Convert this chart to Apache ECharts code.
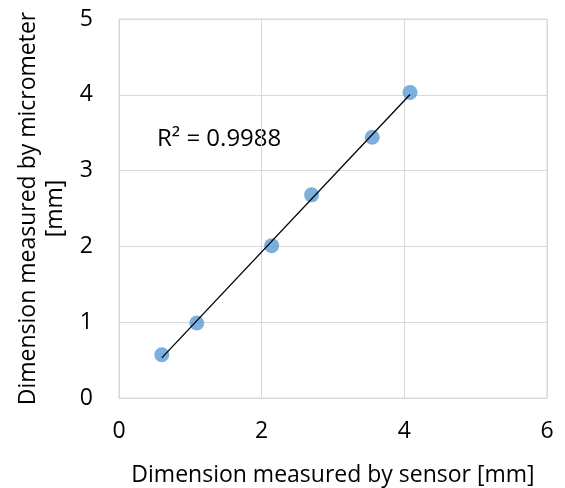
<!DOCTYPE html>
<html>
<head>
<meta charset="utf-8">
<script src="https://cdn.jsdelivr.net/npm/echarts@6/dist/echarts.min.js"></script>
<style>
  html, body { margin: 0; padding: 0; background: #fff; }
  #chart { width: 565px; height: 488px; }
</style>
</head>
<body>
<div id="chart"></div>
<script>
// Calibration: sensor reading vs micrometer reading (mm)
const sensorMm = [0.60, 1.09, 2.14, 2.70, 3.55, 4.08];
const micrometerMm = [0.57, 0.99, 2.01, 2.68, 3.44, 4.03];
const xTicks = [0, 2, 4, 6];
const yTicks = [0, 1, 2, 3, 4, 5];
const rSquaredText = 'R² = 0.9988';

// Least-squares linear trendline over the measured range
function linearFit(xs, ys) {
  const n = xs.length;
  const mx = xs.reduce((a, b) => a + b, 0) / n;
  const my = ys.reduce((a, b) => a + b, 0) / n;
  let sxy = 0, sxx = 0;
  for (let i = 0; i < n; i++) {
    sxy += (xs[i] - mx) * (ys[i] - my);
    sxx += (xs[i] - mx) * (xs[i] - mx);
  }
  const slope = sxy / sxx;
  return { slope, intercept: my - slope * mx };
}
const fit = linearFit(sensorMm, micrometerMm);
const xMin = Math.min(...sensorMm), xMax = Math.max(...sensorMm);
const trend = [
  [xMin, fit.intercept + fit.slope * xMin],
  [xMax, fit.intercept + fit.slope * xMax]
];

const FONT = '"Open Sans", sans-serif';
const gridColor = '#d9d9d9';

const chart = echarts.init(document.getElementById('chart'));
chart.setOption({
  animation: false,
  grid: {
    left: 119, top: 19, right: 18, bottom: 90,
    outerBoundsMode: 'none', containLabel: false,
    show: true, borderColor: gridColor, borderWidth: 1, backgroundColor: 'transparent'
  },
  xAxis: {
    type: 'value',
    min: xTicks[0], max: xTicks[xTicks.length - 1], interval: 2,
    name: 'Dimension measured by sensor [mm]',
    nameLocation: 'middle', nameGap: 66,
    nameTextStyle: { fontFamily: FONT, fontSize: 23, color: '#000' },
    axisLine: { show: true, lineStyle: { color: gridColor } },
    axisTick: { show: false },
    axisLabel: { fontFamily: FONT, fontSize: 23, color: '#000', margin: 22 },
    splitLine: { show: true, lineStyle: { color: gridColor, width: 1 } }
  },
  yAxis: {
    type: 'value',
    min: yTicks[0], max: yTicks[yTicks.length - 1], interval: 1,
    name: 'Dimension measured by micrometer\n[mm]',
    nameLocation: 'middle', nameGap: 44, nameRotate: 90,
    nameTextStyle: { fontFamily: FONT, fontSize: 23, color: '#000', lineHeight: 27, align: 'center' },
    axisLine: { show: true, lineStyle: { color: gridColor } },
    axisTick: { show: false },
    axisLabel: { fontFamily: FONT, fontSize: 23, color: '#000', margin: 26 },
    splitLine: { show: true, lineStyle: { color: gridColor, width: 1 } }
  },
  graphic: [{
    type: 'text',
    left: 157, top: 127,
    style: { text: rSquaredText, font: '24px ' + FONT, fill: '#000' }
  }],
  series: [
    {
      type: 'scatter',
      data: sensorMm.map((x, i) => [x, micrometerMm[i]]),
      symbol: 'circle', symbolSize: 15,
      itemStyle: { color: '#5b9bd5' },
      z: 2
    },
    {
      type: 'line',
      data: trend,
      showSymbol: false,
      lineStyle: { color: '#000', width: 1.3 },
      z: 3
    }
  ]
});
</script>
</body>
</html>
